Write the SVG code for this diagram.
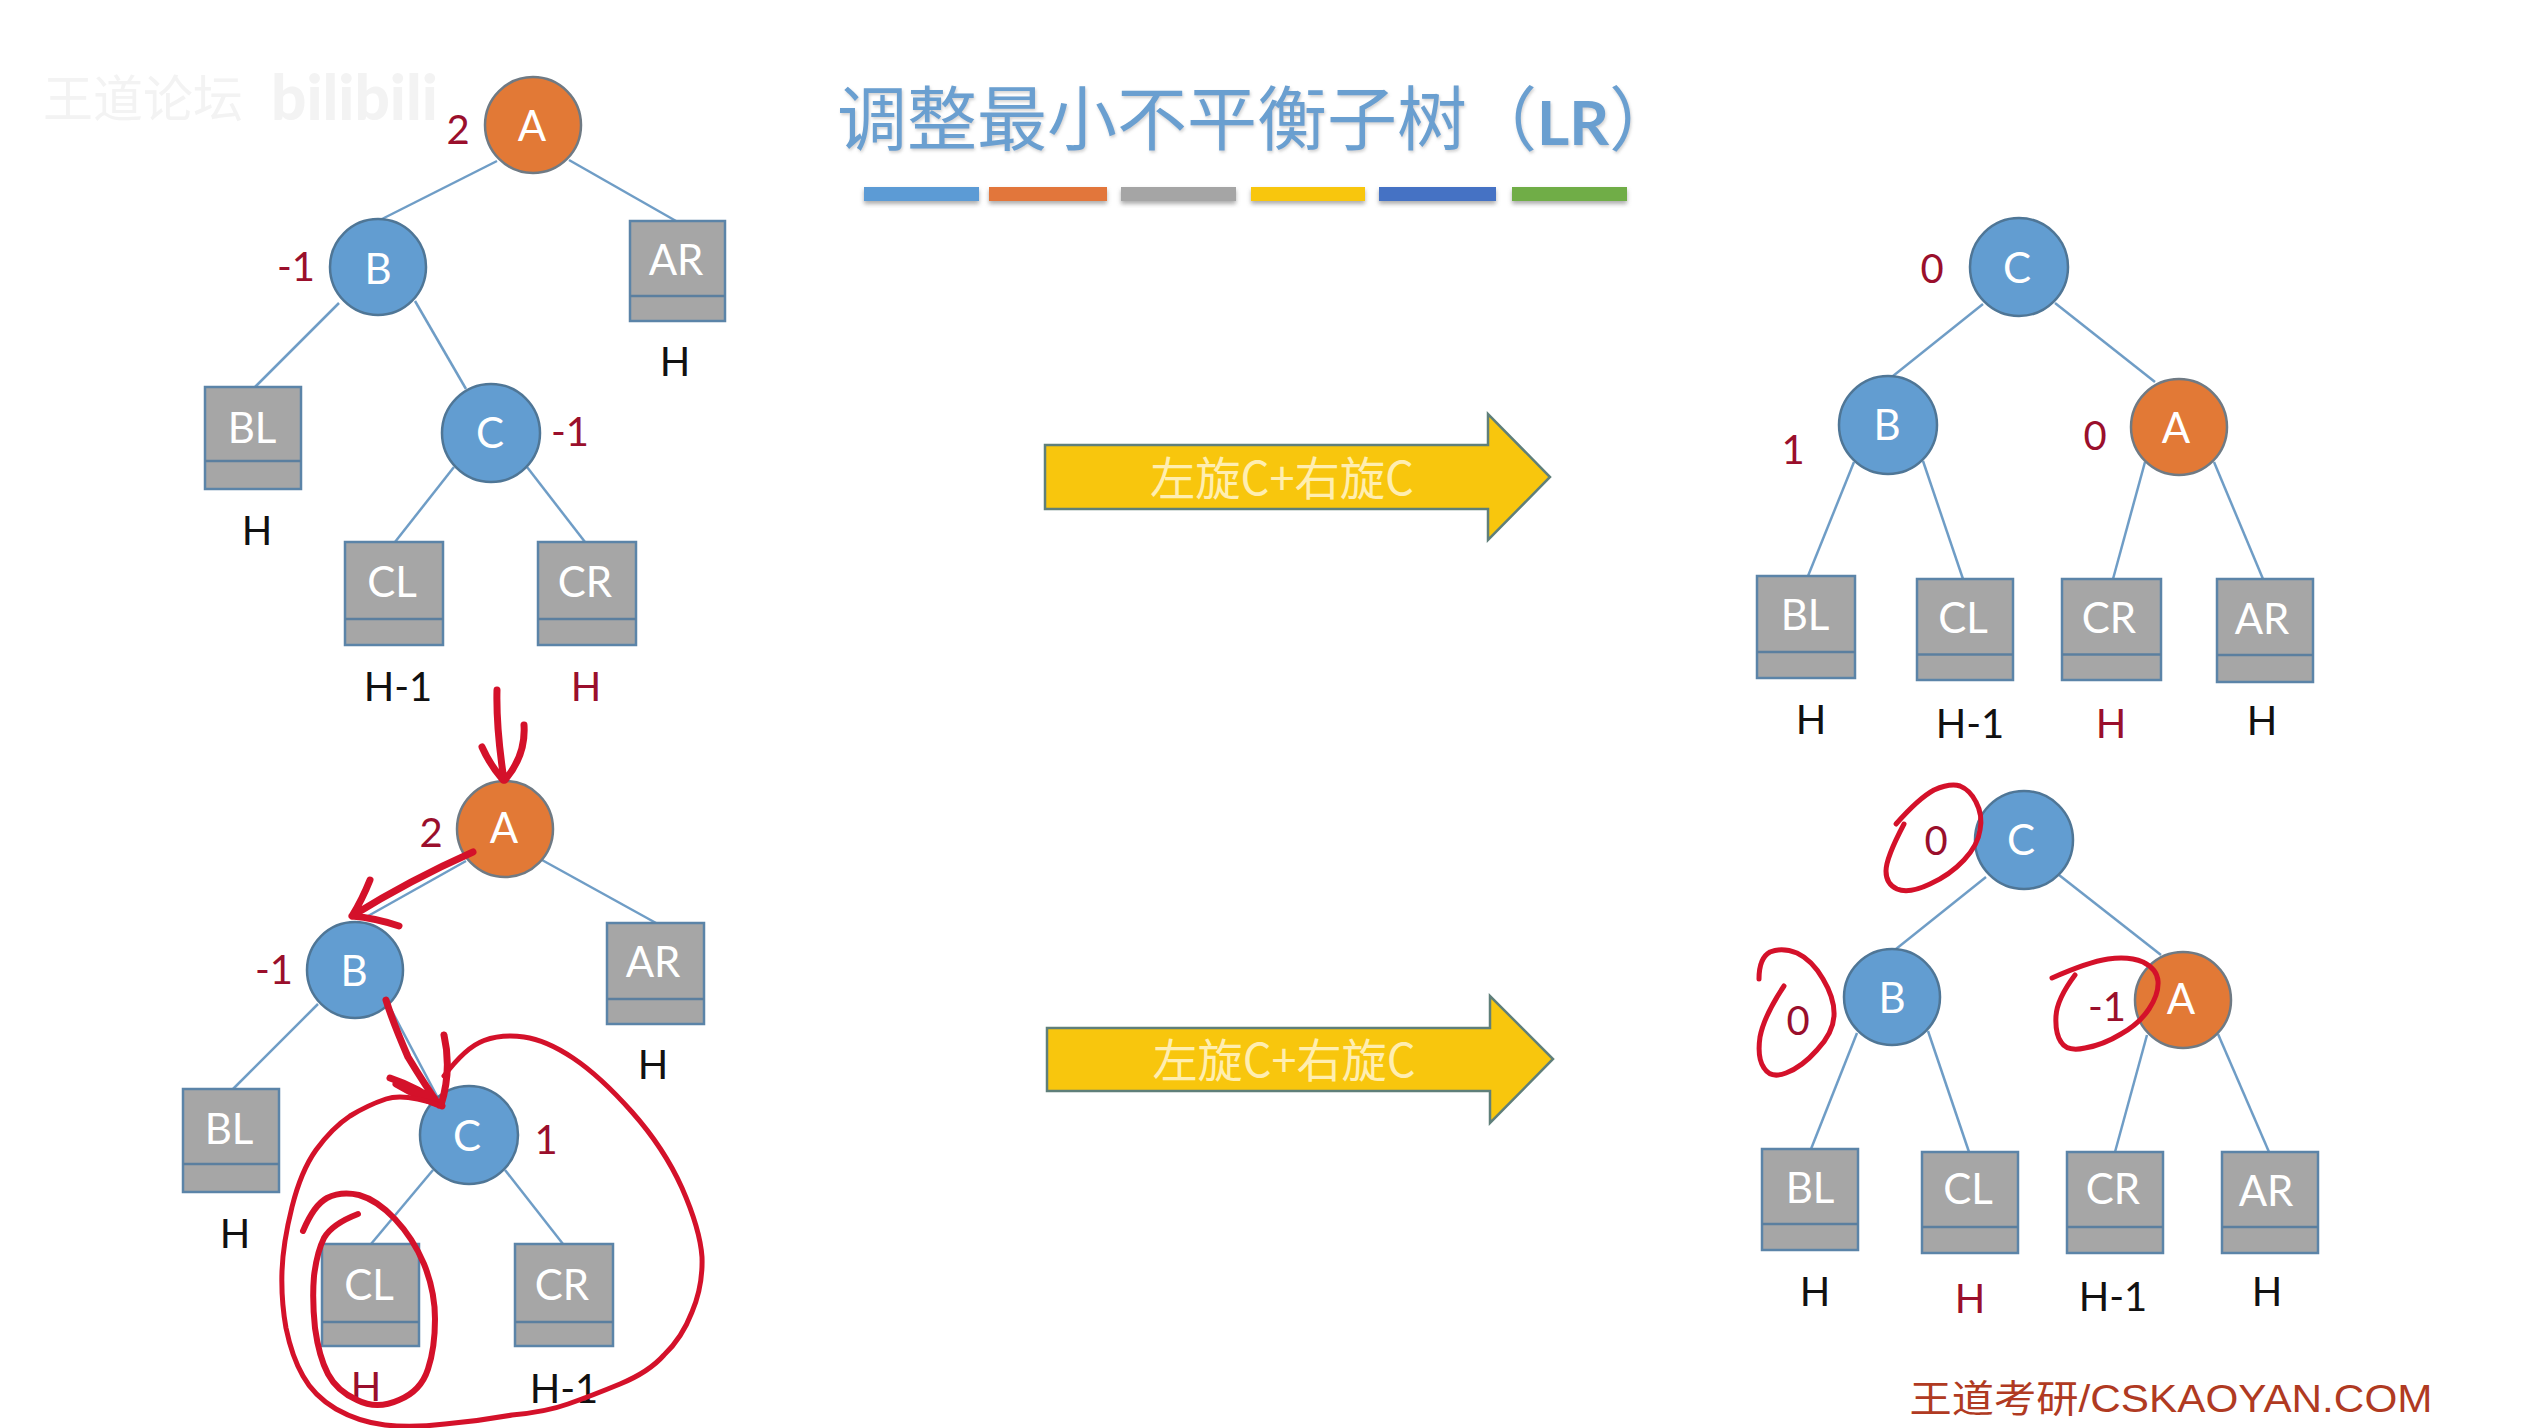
<svg xmlns="http://www.w3.org/2000/svg" width="2540" height="1428" viewBox="0 0 2540 1428">
<style>
text{font-family:Lato,"Noto Sans CJK SC",sans-serif;text-anchor:middle;transform:translateY(1.5px)}
.blue{fill:#629dd1;stroke:#4f7696;stroke-width:2.5;transform:translateY(1px)}
.org{fill:#e27936;stroke:#6f7a84;stroke-width:2.5;transform:translateY(1px)}
.box{fill:#a6a6a6;stroke:#5b84a8;stroke-width:2.5}
.div{stroke:#5b7f9f;stroke-width:2.5}
.nt{fill:#fff;font-size:42px}
.bf{fill:#9a0f2c;font-size:40px}
.hk{fill:#111;font-size:40px}
.hr{fill:#9a0f2c;font-size:40px}
.edge{stroke:#6f9dc6;stroke-width:2.5;fill:none}
.ink{stroke:#d4112a;fill:none;stroke-width:5;stroke-linecap:round;stroke-linejoin:round}
.ink2{stroke-width:7}
.arrow{fill:#f8c60d;stroke:#5f7f7a;stroke-width:2.5}
.at{fill:#ffeeb0;font-size:46px;font-family:"Noto Sans CJK SC",sans-serif}
.wm{fill:#f3f3f3}
.ti{fill:#6a9fd0;font-size:70px;font-family:"Noto Sans CJK SC",sans-serif;text-anchor:start}
</style>
<defs>
<filter id="sh" x="-5%" y="-30%" width="110%" height="180%"><feDropShadow dx="0" dy="3" stdDeviation="2" flood-color="#777" flood-opacity="0.6"/></filter>
<filter id="ts" x="-2%" y="-5%" width="104%" height="115%"><feDropShadow dx="1" dy="2" stdDeviation="1.5" flood-color="#999" flood-opacity="0.45"/></filter>
</defs>
<rect width="2540" height="1428" fill="#fff"/>

<g id="watermark">
<text class="wm" x="143" y="115" font-size="50" style="font-family:'Noto Sans CJK SC',sans-serif">王道论坛</text>
<text class="wm" x="271" y="120" font-size="62" font-weight="900" style="text-anchor:start;transform:none">bilibili</text>
</g>

<g id="title" filter="url(#ts)">
<text class="ti" x="837" y="143">调整最小不平衡子树（<tspan font-size="62" font-weight="700" style="font-family:Lato,sans-serif">LR</tspan>）</text>
</g>
<g id="bars" filter="url(#sh)">
<rect x="864" y="187" width="115" height="14" fill="#5b9bd5"/>
<rect x="989" y="187" width="118" height="14" fill="#e2763a"/>
<rect x="1121" y="187" width="115" height="14" fill="#a5a5a5"/>
<rect x="1251" y="187" width="114" height="14" fill="#f8c60d"/>
<rect x="1379" y="187" width="117" height="14" fill="#4472c4"/>
<rect x="1512" y="187" width="115" height="14" fill="#70ad47"/>
</g>

<g id="connectors">
<line class="edge" x1="497" y1="161" x2="382" y2="219"/>
<line class="edge" x1="569" y1="160" x2="676" y2="221"/>
<line class="edge" x1="339" y1="303" x2="255" y2="387"/>
<line class="edge" x1="415" y1="301" x2="466" y2="389"/>
<line class="edge" x1="454" y1="467" x2="395" y2="542"/>
<line class="edge" x1="527" y1="467" x2="585" y2="542"/>

<line class="edge" x1="466" y1="861" x2="368" y2="916"/>
<line class="edge" x1="542" y1="860" x2="656" y2="923"/>
<line class="edge" x1="318" y1="1004" x2="233" y2="1089"/>
<line class="edge" x1="386" y1="1000" x2="439" y2="1100"/>
<line class="edge" x1="433" y1="1170" x2="371" y2="1244"/>
<line class="edge" x1="505" y1="1170" x2="563" y2="1244"/>

<line class="edge" x1="1983" y1="304" x2="1893" y2="376"/>
<line class="edge" x1="2055" y1="303" x2="2155" y2="382"/>
<line class="edge" x1="1854" y1="462" x2="1808" y2="576"/>
<line class="edge" x1="1923" y1="461" x2="1963" y2="579"/>
<line class="edge" x1="2145" y1="462" x2="2113" y2="579"/>
<line class="edge" x1="2214" y1="462" x2="2263" y2="579"/>

<line class="edge" x1="1986" y1="877" x2="1896" y2="949"/>
<line class="edge" x1="2059" y1="875" x2="2161" y2="955"/>
<line class="edge" x1="1857" y1="1033" x2="1811" y2="1149"/>
<line class="edge" x1="1928" y1="1031" x2="1969" y2="1152"/>
<line class="edge" x1="2147" y1="1035" x2="2115" y2="1152"/>
<line class="edge" x1="2218" y1="1034" x2="2269" y2="1152"/>
</g>

<!-- tree 1 -->
<g id="t1-A"><circle class="org" cx="533" cy="124" r="48"/><text class="nt" x="532" y="139">A</text><text class="bf" x="458" y="142">2</text></g>
<g id="t1-B"><circle class="blue" cx="378" cy="266" r="48"/><text class="nt" x="378" y="282">B</text><text class="bf" x="296" y="279">-1</text></g>
<g id="t1-C"><circle class="blue" cx="491" cy="432" r="49"/><text class="nt" x="490" y="446">C</text><text class="bf" x="570" y="444">-1</text></g>
<g id="t1-AR"><rect class="box" x="630" y="221" width="95" height="100"/><line class="div" x1="630" y1="296" x2="725" y2="296"/><text class="nt" x="676" y="273">AR</text><text class="hk" x="675" y="374">H</text></g>
<g id="t1-BL"><rect class="box" x="205" y="387" width="96" height="102"/><line class="div" x1="205" y1="461" x2="301" y2="461"/><text class="nt" x="252" y="441">BL</text><text class="hk" x="257" y="543">H</text></g>
<g id="t1-CL"><rect class="box" x="345" y="542" width="98" height="103"/><line class="div" x1="345" y1="619" x2="443" y2="619"/><text class="nt" x="392" y="595">CL</text><text class="hk" x="398" y="699">H-1</text></g>
<g id="t1-CR"><rect class="box" x="538" y="542" width="98" height="103"/><line class="div" x1="538" y1="619" x2="636" y2="619"/><text class="nt" x="585" y="595">CR</text><text class="hr" x="586" y="699">H</text></g>

<!-- tree 2 -->
<g id="t2-A"><circle class="org" cx="505" cy="828" r="48"/><text class="nt" x="504" y="841">A</text><text class="bf" x="431" y="845">2</text></g>
<g id="t2-B"><circle class="blue" cx="355" cy="969" r="48"/><text class="nt" x="354" y="984">B</text><text class="bf" x="274" y="982">-1</text></g>
<g id="t2-C"><circle class="blue" cx="469" cy="1134" r="49"/><text class="nt" x="467" y="1149">C</text><text class="bf" x="546" y="1152">1</text></g>
<g id="t2-AR"><rect class="box" x="607" y="923" width="97" height="101"/><line class="div" x1="607" y1="999" x2="704" y2="999"/><text class="nt" x="653" y="975">AR</text><text class="hk" x="653" y="1077">H</text></g>
<g id="t2-BL"><rect class="box" x="183" y="1089" width="96" height="103"/><line class="div" x1="183" y1="1164" x2="279" y2="1164"/><text class="nt" x="229" y="1142">BL</text><text class="hk" x="235" y="1246">H</text></g>
<g id="t2-CL"><rect class="box" x="322" y="1244" width="97" height="102"/><line class="div" x1="322" y1="1322" x2="419" y2="1322"/><text class="nt" x="369" y="1298">CL</text><text class="hr" x="366" y="1399">H</text></g>
<g id="t2-CR"><rect class="box" x="515" y="1244" width="98" height="102"/><line class="div" x1="515" y1="1322" x2="613" y2="1322"/><text class="nt" x="562" y="1298">CR</text><text class="hk" x="564" y="1401">H-1</text></g>

<!-- tree 3 -->
<g id="t3-C"><circle class="blue" cx="2019" cy="266" r="49"/><text class="nt" x="2017" y="281">C</text><text class="bf" x="1932" y="281">0</text></g>
<g id="t3-B"><circle class="blue" cx="1888" cy="424" r="49"/><text class="nt" x="1887" y="438">B</text><text class="bf" x="1793" y="462">1</text></g>
<g id="t3-A"><circle class="org" cx="2179" cy="426" r="48"/><text class="nt" x="2176" y="441">A</text><text class="bf" x="2095" y="448">0</text></g>
<g id="t3-BL"><rect class="box" x="1757" y="576" width="98" height="102"/><line class="div" x1="1757" y1="652" x2="1855" y2="652"/><text class="nt" x="1805" y="628">BL</text><text class="hk" x="1811" y="732">H</text></g>
<g id="t3-CL"><rect class="box" x="1917" y="579" width="96" height="101"/><line class="div" x1="1917" y1="654.5" x2="2013" y2="654.5"/><text class="nt" x="1963" y="631">CL</text><text class="hk" x="1970" y="736">H-1</text></g>
<g id="t3-CR"><rect class="box" x="2062" y="579" width="99" height="101"/><line class="div" x1="2062" y1="654.5" x2="2161" y2="654.5"/><text class="nt" x="2109" y="631">CR</text><text class="hr" x="2111" y="736">H</text></g>
<g id="t3-AR"><rect class="box" x="2217" y="579" width="96" height="103"/><line class="div" x1="2217" y1="655" x2="2313" y2="655"/><text class="nt" x="2262" y="632">AR</text><text class="hk" x="2262" y="733">H</text></g>

<!-- tree 4 -->
<g id="t4-C"><circle class="blue" cx="2024" cy="839" r="49"/><text class="nt" x="2021" y="853">C</text><text class="bf" x="1936" y="853">0</text></g>
<g id="t4-B"><circle class="blue" cx="1892" cy="996" r="48"/><text class="nt" x="1892" y="1011">B</text><text class="bf" x="1798" y="1033">0</text></g>
<g id="t4-A"><circle class="org" cx="2183" cy="999" r="48"/><text class="nt" x="2181" y="1012">A</text><text class="bf" x="2107" y="1019">-1</text></g>
<g id="t4-BL"><rect class="box" x="1762" y="1149" width="96" height="101"/><line class="div" x1="1762" y1="1224" x2="1858" y2="1224"/><text class="nt" x="1810" y="1201">BL</text><text class="hk" x="1815" y="1304">H</text></g>
<g id="t4-CL"><rect class="box" x="1922" y="1152" width="96" height="101"/><line class="div" x1="1922" y1="1227" x2="2018" y2="1227"/><text class="nt" x="1968" y="1202">CL</text><text class="hr" x="1970" y="1311">H</text></g>
<g id="t4-CR"><rect class="box" x="2067" y="1152" width="96" height="101"/><line class="div" x1="2067" y1="1227" x2="2163" y2="1227"/><text class="nt" x="2113" y="1202">CR</text><text class="hk" x="2113" y="1309">H-1</text></g>
<g id="t4-AR"><rect class="box" x="2222" y="1152" width="96" height="101"/><line class="div" x1="2222" y1="1227" x2="2318" y2="1227"/><text class="nt" x="2266" y="1204">AR</text><text class="hk" x="2267" y="1304">H</text></g>

<g id="arrow1"><path class="arrow" d="M1045 445H1488V414L1550 477L1488 540V509H1045Z"/><text class="at" x="1282" y="493" textLength="264" lengthAdjust="spacingAndGlyphs">左旋C+右旋C</text></g>
<g id="arrow2"><path class="arrow" d="M1047 1028H1490V996L1553 1059L1490 1123V1091H1047Z"/><text class="at" x="1284" y="1075" textLength="263" lengthAdjust="spacingAndGlyphs">左旋C+右旋C</text></g>

<g id="footer"><text x="2171" y="1410" font-size="38" fill="#b03a22" textLength="523" lengthAdjust="spacingAndGlyphs" style="font-family:'Liberation Sans','Noto Sans CJK SC',sans-serif">王道考研/CSKAOYAN.COM</text></g>

<g id="ink">
<path class="ink ink2" d="M497 690Q496 728 504 780M482 747Q490 765 503 780M524 725Q526 755 505 780"/>
<path class="ink ink2" d="M473 852Q410 880 352 916M370 880Q362 900 352 916Q375 918 399 926"/>
<path class="ink ink2" d="M386 1000Q392 1020 408 1057Q425 1085 439 1105M390 1078Q420 1088 440 1105M396 1084Q420 1098 442 1106M444 1035Q452 1070 441 1105"/>
<path class="ink" d="M444 1076Q466 1047 484 1040.5Q502 1034 524 1037Q546 1040 573 1058Q600 1076 632 1112Q664 1148 682 1188Q700 1229 702 1257Q703 1286 692 1312Q682 1338 664 1355Q649 1372 620 1384Q591 1396 568 1404Q546 1412 512 1415Q479 1421 445 1424Q412 1428 385 1425Q359 1422 336 1409Q314 1396 303 1376Q292 1357 286 1328Q281 1300 282 1271Q283 1243 292 1207Q301 1171 316 1150Q332 1128 350 1116Q368 1105 386 1099Q404 1093 439 1105"/>
<path class="ink" style="stroke-width:6" d="M303 1231Q314 1205 327 1198Q341 1191 359 1195Q377 1200 395 1219Q413 1238 424 1264Q435 1291 435 1319Q435 1348 428 1369Q421 1391 399 1400Q377 1410 357 1400Q337 1391 328 1374Q319 1357 315 1328Q312 1300 314 1276Q317 1252 324 1238Q332 1224 358 1214"/>
<path class="ink" d="M1896 824Q1919 798 1934 790Q1950 783 1960 786Q1970 790 1976 802Q1983 815 1980 830Q1978 845 1964 860Q1950 875 1930 884Q1909 894 1897 889Q1886 884 1886 871Q1886 858 1904 824"/>
<path class="ink" d="M1759 979Q1759 958 1770 952Q1782 947 1797 953Q1812 960 1823 979Q1835 999 1834 1016Q1833 1033 1817 1050Q1802 1067 1786 1073Q1771 1079 1764 1068Q1757 1058 1760 1037Q1764 1016 1784 986"/>
<path class="ink" d="M2052 978Q2088 962 2108 959Q2129 956 2143 962Q2157 969 2158 981Q2159 994 2149 1009Q2139 1024 2121 1034Q2103 1045 2085 1048Q2067 1052 2061 1042Q2055 1033 2056 1016Q2057 999 2075 975"/>
</g>
</svg>
